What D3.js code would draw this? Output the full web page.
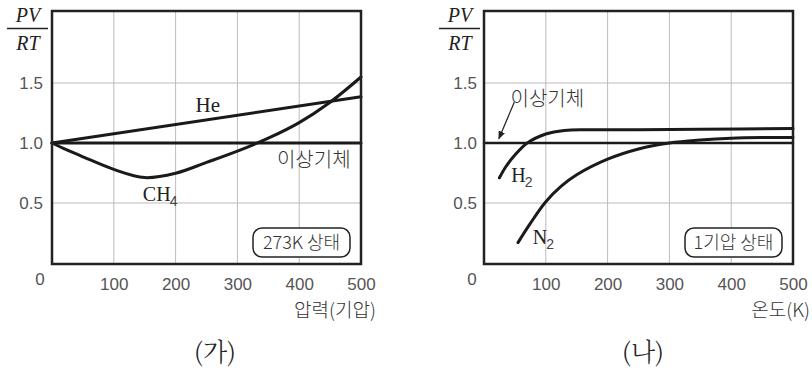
<!DOCTYPE html>
<html>
<head>
<meta charset="utf-8">
<script src="https://cdn.jsdelivr.net/npm/d3@7"></script>
<style>
  body { margin: 0; background: #fff; }
  .tick text { font-family: 'Liberation Sans', 'Noto Sans CJK KR', sans-serif; font-size: 17px; fill: #555; }
  .kr { font-family: 'Noto Sans CJK KR', sans-serif; font-weight: 300; fill: #333; }
  .serif { font-family: 'Liberation Serif', 'DejaVu Serif', serif; fill: #222; }
</style>
</head>
<body>
<div id="chart"></div>
<script>
// data
const xTicks = [100, 200, 300, 400, 500];
const yTicks = [0.5, 1.0, 1.5];

// (가) 273K, pressure in atm
const idealP = [0, 500];
const idealZ = [1.0, 1.0];
const heP = [0, 500];
const heZ = [1.0, 1.385];
const ch4P = [0, 25, 50, 100, 150, 200, 250, 300, 350, 400, 450, 500];
const ch4Z = [1.0, 0.94, 0.885, 0.78, 0.712, 0.748, 0.838, 0.932, 1.04, 1.17, 1.34, 1.55];

// (나) 1 atm, temperature in K
const idealT = [0, 500];
const idealZ2 = [1.0, 1.0];
const h2T = [25, 35, 50, 70, 100, 130, 170, 250, 350, 500];
const h2Z = [0.71, 0.80, 0.90, 1.0, 1.075, 1.105, 1.11, 1.11, 1.115, 1.12];
const n2T = [55, 75, 100, 125, 150, 200, 250, 300, 350, 400, 450, 500];
const n2Z = [0.17, 0.33, 0.51, 0.64, 0.735, 0.865, 0.95, 1.0, 1.025, 1.04, 1.045, 1.045];

const W = 812, H = 370;
const plotTop = 11, plotBottom = 263;

const svg = d3.select('#chart').append('svg')
  .attr('width', W).attr('height', H);

const zip = (xs, ys) => xs.map((x, i) => [x, ys[i]]);

function panel(opt) {
  const x = d3.scaleLinear().domain([0, 500]).range([opt.left, opt.left + 309]);
  const y = d3.scaleLinear().domain([0, 2.1]).range([plotBottom, plotTop]);
  const g = svg.append('g');

  // grid
  g.append('g').selectAll('line').data(xTicks.slice(0, 4)).join('line')
    .attr('x1', d => x(d)).attr('x2', d => x(d))
    .attr('y1', y(2.1)).attr('y2', y(0))
    .attr('stroke', '#bbb').attr('stroke-width', 1);
  g.append('g').selectAll('line').data(yTicks).join('line')
    .attr('x1', x(0)).attr('x2', x(500))
    .attr('y1', d => y(d)).attr('y2', d => y(d))
    .attr('stroke', '#bbb').attr('stroke-width', 1);

  // axes labels
  const xAxis = d3.axisBottom(x).tickValues(xTicks).tickSize(0).tickPadding(15);
  g.append('g').attr('transform', `translate(0,${y(0)})`).call(xAxis)
    .call(a => a.select('.domain').remove());
  const yAxis = d3.axisLeft(y).tickValues(yTicks).tickSize(0).tickPadding(opt.ypad)
    .tickFormat(d3.format('.1f'));
  g.append('g').attr('transform', `translate(${x(0)},0)`).call(yAxis)
    .call(a => a.select('.domain').remove());
  g.append('text')
    .attr('x', x(0) - 12).attr('y', y(0) + 22)
    .attr('text-anchor', 'middle')
    .style('font-family', "'Liberation Sans', sans-serif").style('font-size', '17px').style('fill', '#555')
    .text('0');

  // PV / RT
  const fx = x(0) - 24;
  g.append('text').attr('class', 'serif').attr('x', fx).attr('y', 22)
    .attr('text-anchor', 'middle').style('font-size', '20px').style('font-style', 'italic').text('PV');
  g.append('line').attr('x1', fx - 21).attr('x2', fx + 20).attr('y1', 28.5).attr('y2', 28.5)
    .attr('stroke', '#222').attr('stroke-width', 1.3);
  g.append('text').attr('class', 'serif').attr('x', fx).attr('y', 50)
    .attr('text-anchor', 'middle').style('font-size', '20px').style('font-style', 'italic').text('RT');

  // axis title
  g.append('text').attr('class', 'kr')
    .attr('x', opt.titleX).attr('y', 317).attr('text-anchor', 'end')
    .style('font-size', '19px').text(opt.title);

  // panel caption
  g.append('text').attr('class', 'kr')
    .attr('x', opt.capX).attr('y', 361).attr('text-anchor', 'middle')
    .style('font-family', "'Noto Serif CJK KR', 'Noto Sans CJK KR', serif")
    .style('font-size', '25px').style('fill', '#222').text(opt.caption);

  // condition box
  const bw = 97, bh = 29;
  const bx = x(500) - 11 - bw, by = 228;
  g.append('rect').attr('x', bx).attr('y', by).attr('width', bw).attr('height', bh)
    .attr('rx', 9).attr('fill', '#fff').attr('stroke', '#222').attr('stroke-width', 1.5);
  g.append('text').attr('class', 'kr').attr('x', bx + bw / 2).attr('y', by + 21)
    .attr('text-anchor', 'middle').style('font-size', '18px').text(opt.box);

  const line = d3.line().x(d => x(d[0])).y(d => y(d[1])).curve(d3.curveCatmullRom.alpha(0.5));
  opt.series.forEach(s => {
    g.append('path').datum(s.data).attr('d', line)
      .attr('fill', 'none').attr('stroke', '#1a1a1a')
      .attr('stroke-width', s.w || 3).attr('stroke-linecap', 'round');
  });

  // frame
  g.append('rect').attr('x', x(0)).attr('y', y(2.1))
    .attr('width', x(500) - x(0)).attr('height', y(0) - y(2.1) + 1)
    .attr('fill', 'none').attr('stroke', '#222').attr('stroke-width', 2.5);

  return { g, x, y };
}

function chem(g, px, py, base, sub) {
  const t = g.append('text').attr('class', 'serif').attr('x', px).attr('y', py)
    .style('font-size', '20px');
  t.append('tspan').text(base);
  t.append('tspan').attr('dy', 5).attr('dx', -1)
    .style('font-family', "'Liberation Sans', sans-serif").style('font-size', '14px').style('fill', '#444')
    .text(sub);
}

// (가)
const a = panel({
  left: 52, ypad: 9, title: '압력(기압)', titleX: 376, capX: 215, caption: '(가)',
  box: '273K 상태',
  series: [
    { data: zip(idealP, idealZ), w: 3 },
    { data: zip(heP, heZ) },
    { data: zip(ch4P, ch4Z) }
  ]
});
a.g.append('text').attr('class', 'serif').attr('x', a.x(252)).attr('y', 112)
  .attr('text-anchor', 'middle').style('font-size', '21px').text('He');
a.g.append('text').attr('class', 'kr').attr('x', a.x(364)).attr('y', 167)
  .style('font-size', '20px').text('이상기체');
chem(a.g, a.x(147), 201, 'CH', '4');

// (나)
const b = panel({
  left: 484, ypad: 7, title: '온도(K)', titleX: 810, capX: 643, caption: '(나)',
  box: '1기압 상태',
  series: [
    { data: zip(idealT, idealZ2), w: 2.5 },
    { data: zip(h2T, h2Z) },
    { data: zip(n2T, n2Z) }
  ]
});
b.g.append('text').attr('class', 'kr').attr('x', b.x(43)).attr('y', 106)
  .style('font-size', '20px').text('이상기체');
chem(b.g, b.x(44), 182, 'H', '2');
chem(b.g, b.x(79), 244, 'N', '2');

// arrow to ideal line
svg.append('defs').append('marker').attr('id', 'ah')
  .attr('viewBox', '0 0 10 10').attr('refX', 9).attr('refY', 5)
  .attr('markerWidth', 7).attr('markerHeight', 7).attr('orient', 'auto')
  .append('path').attr('d', 'M0,1 L10,5 L0,9 Z').attr('fill', '#222');
b.g.append('line')
  .attr('x1', b.x(49)).attr('y1', b.y(1.34))
  .attr('x2', b.x(24)).attr('y2', b.y(1.035))
  .attr('stroke', '#222').attr('stroke-width', 1.2)
  .attr('marker-end', 'url(#ah)');
</script>
</body>
</html>
